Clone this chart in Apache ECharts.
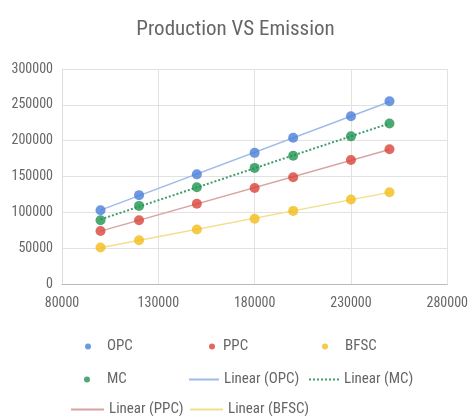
<!DOCTYPE html>
<html>
<head>
<meta charset="utf-8">
<script src="https://cdn.jsdelivr.net/npm/echarts@6/dist/echarts.min.js"></script>
<style>html,body{margin:0;padding:0;background:#fff}#c{width:471px;height:416px}</style>
</head>
<body>
<div id="c"></div>
<script>
const production = [100000, 120000, 150000, 180000, 200000, 230000, 250000];
const opc  = [103000, 124000, 153000, 183000, 204000, 234000, 255000];
const ppc  = [74000, 89000, 112000, 134000, 149000, 173000, 188000];
const bfsc = [51000, 61000, 76000, 91000, 102000, 118000, 128000];
const mc   = [89000, 109000, 135000, 162000, 179000, 206000, 224000];
const xTicks = [80000, 130000, 180000, 230000, 280000];
const yTicks = [0, 50000, 100000, 150000, 200000, 250000, 300000];

const FONT = "'Roboto Condensed', 'Liberation Sans', sans-serif";

function pairs(xs, ys) { return xs.map((x, i) => [x, ys[i]]); }
function trend(xs, ys) {
  const n = xs.length;
  const mx = xs.reduce((a, b) => a + b, 0) / n;
  const my = ys.reduce((a, b) => a + b, 0) / n;
  let sxy = 0, sxx = 0;
  for (let i = 0; i < n; i++) { sxy += (xs[i] - mx) * (ys[i] - my); sxx += (xs[i] - mx) ** 2; }
  const b = sxy / sxx, a = my - b * mx;
  const x0 = Math.min(...xs), x1 = Math.max(...xs);
  return [[x0, a + b * x0], [x1, a + b * x1]];
}

const C = { opc: '#4a80d8', ppc: '#d9443a', bfsc: '#f2bd1c', mc: '#1f9450' };
const T = { opc: '#9fbbe6', ppc: '#d9a3a3', bfsc: '#f2df8a', mc: '#3f9f6a' };

function scatter(name, ys, color) {
  return { name, type: 'scatter', data: pairs(production, ys), symbol: 'circle', symbolSize: 10,
    itemStyle: { color }, z: 5 };
}
function tline(name, ys, color, type) {
  return { name, type: 'line', data: trend(production, ys), showSymbol: false, symbol: 'none',
    lineStyle: { color, width: type === 'dotted' ? 2 : 1.5, type }, itemStyle: { color }, z: 3 };
}

function legDot(name, cx, top, padLeft) {
  return { data: [name], left: cx - 3, top, itemWidth: 6, itemHeight: 6, padding: 0, selectedMode: false,
    textStyle: { fontFamily: FONT, fontSize: 15, color: '#666', padding: [0, 0, 0, padLeft] } };
}
function legLine(name, left, top, w) {
  return { data: [name], left, top, itemWidth: w, itemHeight: 6, padding: 0, selectedMode: false,
    itemStyle: { opacity: 0 },
    textStyle: { fontFamily: FONT, fontSize: 15, color: '#666' } };
}

const fmt = v => String(v);

const chart = echarts.init(document.getElementById('c'));
chart.setOption({
  animation: false,
  title: { text: 'Production VS Emission', left: 'center', top: 14,
    textStyle: { fontFamily: FONT, fontSize: 21, fontWeight: 'normal', color: '#666' } },
  grid: { left: 62, right: 21, top: 69, bottom: 132 },
  xAxis: { type: 'value', min: xTicks[0], max: xTicks[xTicks.length - 1], interval: xTicks[1] - xTicks[0],
    axisLine: { show: true, lineStyle: { color: '#bbb' } }, axisTick: { show: false },
    splitLine: { show: true, lineStyle: { color: '#e2e2e2' } },
    axisLabel: { fontFamily: FONT, fontSize: 14, color: '#666', margin: 12, formatter: fmt } },
  yAxis: { type: 'value', min: yTicks[0], max: yTicks[yTicks.length - 1], interval: yTicks[1] - yTicks[0],
    axisLine: { show: true, lineStyle: { color: '#ddd' } }, axisTick: { show: false },
    splitLine: { show: true, lineStyle: { color: '#e2e2e2' } },
    axisLabel: { fontFamily: FONT, fontSize: 14, color: '#666', margin: 9, formatter: fmt } },
  legend: [
    legDot('OPC', 88, 339, 11),
    legDot('PPC', 212, 339, 3),
    legDot('BFSC', 325, 339, 12),
    legDot('MC', 87, 372, 12),
    legLine('Linear (OPC)', 188, 372, 30),
    legLine('Linear (MC)', 308, 372, 30),
    legLine('Linear (PPC)', 70, 402, 33),
    legLine('Linear (BFSC)', 189, 402, 33)
  ],
  series: [
    tline('Linear (OPC)', opc, T.opc, 'solid'),
    tline('Linear (MC)', mc, T.mc, 'dotted'),
    tline('Linear (PPC)', ppc, T.ppc, 'solid'),
    tline('Linear (BFSC)', bfsc, T.bfsc, 'solid'),
    scatter('OPC', opc, C.opc),
    scatter('PPC', ppc, C.ppc),
    scatter('BFSC', bfsc, C.bfsc),
    scatter('MC', mc, C.mc)
  ]
});
</script>
</body>
</html>
